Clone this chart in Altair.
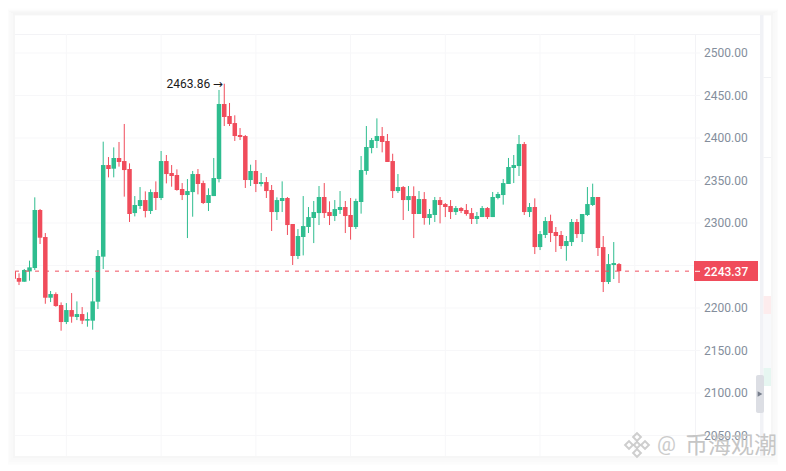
import altair as alt
import pandas as pd

open_ = [2243.1,2235.3,2230.9,2243.1,2247.0,2315.3,2283.5,2212.1,2216.4,2203.5,
         2183.5,2197.6,2189.4,2192.9,2185.1,2185.1,2207.4,2260.4,2368.2,2363.9,
         2376.5,2372.9,2363.5,2311.7,2320.0,2327.0,2314.1,2336.4,2329.4,2372.9,
         2358.8,2356.5,2340.0,2332.9,2336.4,2357.6,2347.0,2323.5,2331.7,2351.7,
         2440.0,2425.9,2417.6,2403.5,2402.3,2350.6,2361.2,2345.9,2348.2,2338.8,
         2312.9,2325.9,2329.4,2298.8,2261.2,2283.5,2295.3,2305.9,2311.7,2330.6,
         2312.9,2308.2,2315.3,2318.8,2309.4,2295.3,2324.7,2361.2,2388.2,2396.5,
         2402.3,2396.5,2372.9,2337.6,2342.3,2327.0,2331.7,2310.6,2328.2,2305.9,
         2309.4,2327.0,2322.3,2320.0,2312.9,2317.6,2315.3,2311.7,2304.7,2307.0,
         2317.6,2307.0,2329.4,2332.9,2345.9,2364.7,2367.0,2392.9,2312.9,2318.8,
         2271.7,2285.9,2302.3,2289.4,2285.9,2272.9,2277.6,2301.2,2287.0,2309.4,
         2321.2,2330.6,2271.7,2230.6,2250.6,2251.7]
close = [2234.5,2230.9,2244.7,2247.8,2315.3,2282.7,2212.1,2216.4,2202.3,2183.5,
         2197.6,2189.8,2192.9,2185.1,2187.0,2207.8,2261.2,2368.2,2363.5,2376.5,
         2371.8,2362.3,2310.6,2321.2,2327.0,2314.1,2336.4,2329.4,2372.9,2357.6,
         2355.3,2338.8,2332.9,2337.6,2357.6,2345.9,2323.5,2332.9,2352.9,2440.0,
         2424.7,2416.5,2402.3,2401.2,2350.6,2361.2,2345.9,2348.2,2337.6,2312.9,
         2327.0,2329.4,2297.6,2261.2,2284.7,2296.4,2307.0,2312.9,2330.6,2311.7,
         2308.2,2316.4,2318.8,2308.2,2295.3,2325.9,2362.3,2389.4,2397.6,2402.3,
         2395.3,2371.8,2337.6,2342.3,2327.0,2331.7,2310.6,2328.2,2305.9,2310.6,
         2327.0,2321.2,2318.8,2312.9,2317.6,2314.1,2310.6,2304.7,2308.2,2317.6,
         2307.0,2330.6,2334.1,2347.0,2365.9,2368.2,2392.9,2312.9,2318.8,2271.7,
         2287.0,2302.3,2288.2,2284.7,2272.9,2278.8,2301.2,2287.0,2310.6,2322.3,
         2330.6,2270.6,2230.6,2251.7,2252.9,2243.37]
high = [2243.1,2240.8,2245.9,2255.7,2330.2,2316.5,2288.2,2220.0,2218.4,2206.6,
        2205.8,2217.6,2207.8,2201.1,2194.9,2235.3,2268.2,2395.7,2377.6,2389.0,
        2395.3,2416.5,2370.2,2331.7,2342.3,2337.2,2339.6,2349.0,2384.7,2380.0,
        2368.2,2363.1,2347.0,2351.7,2361.2,2363.5,2349.8,2340.8,2376.5,2456.5,
        2463.86,2441.2,2426.7,2411.7,2403.5,2368.6,2374.1,2358.8,2354.1,2344.7,
        2330.2,2349.0,2330.6,2298.8,2292.9,2331.7,2318.8,2325.9,2343.5,2347.0,
        2325.5,2327.0,2337.6,2325.9,2329.4,2328.6,2378.8,2414.1,2400.0,2423.1,
        2412.9,2404.7,2381.5,2357.6,2343.5,2343.5,2343.1,2337.6,2336.4,2316.5,
        2330.6,2330.6,2323.5,2327.0,2320.0,2318.8,2322.3,2317.6,2312.9,2320.0,
        2318.8,2336.5,2336.5,2351.8,2376.5,2380.0,2403.5,2395.3,2323.5,2329.0,
        2290.6,2307.0,2309.8,2295.3,2290.6,2284.7,2304.7,2304.7,2310.6,2342.3,
        2346.3,2330.6,2284.7,2263.5,2277.6,2252.9]
low = [2234.5,2227.0,2230.9,2232.1,2244.7,2275.3,2205.0,2207.0,2201.5,2173.3,
       2181.1,2182.7,2185.8,2181.1,2178.0,2174.5,2198.8,2245.9,2353.7,2353.7,
       2366.3,2331.0,2301.2,2307.8,2316.5,2306.6,2310.6,2315.3,2327.0,2346.6,
       2342.7,2338.0,2327.0,2282.3,2307.4,2333.7,2322.3,2314.1,2331.7,2347.8,
       2414.1,2414.1,2396.5,2397.6,2341.2,2343.5,2336.4,2343.1,2329.4,2290.6,
       2303.5,2312.9,2285.9,2250.6,2257.6,2261.9,2288.2,2276.4,2297.6,2305.9,
       2297.6,2302.3,2310.6,2288.2,2280.4,2292.9,2311.0,2356.8,2382.0,2388.2,
       2383.1,2371.8,2329.4,2335.3,2303.5,2314.1,2282.3,2310.6,2298.0,2298.0,
       2301.2,2299.6,2307.0,2304.7,2309.4,2311.7,2308.6,2298.8,2298.8,2307.0,
       2304.7,2307.0,2327.8,2321.6,2345.9,2347.0,2355.3,2309.4,2307.0,2263.5,
       2268.2,2282.3,2277.6,2265.9,2269.4,2255.6,2272.9,2282.3,2277.6,2308.2,
       2320.0,2261.2,2218.8,2228.2,2234.1,2229.4]
price_ticks = [2050, 2100, 2150, 2200, 2250, 2300, 2350, 2400, 2450, 2500]
price_labels = [2050, 2100, 2150, 2200, 2300, 2350, 2400, 2450, 2500]
time_ticks = [10, 28, 46, 64, 82, 100, 118]
last_price = 2243.37
peak_price = 2463.86
peak_index = 40
watermark = "币海观潮"

GREEN, RED = "#2ebd8f", "#f04c5b"
GRID = "#f7f7f9"

df = pd.DataFrame({"i": list(range(len(open_))), "open": open_, "close": close,
                   "high": high, "low": low})
df["dir"] = ["up" if c >= o else "down" for o, c in zip(open_, close)]
ticks_df = pd.DataFrame({"v": price_ticks})
labels_df = pd.DataFrame({"v": price_labels, "t": [f"{v:.2f}" for v in price_labels]})
time_df = pd.DataFrame({"i": time_ticks})

xs = alt.Scale(domain=[0.2394, 129.44], nice=False, zero=False, padding=0)
ys = alt.Scale(domain=[2025.9, 2522.35], nice=False, zero=False, padding=0)
col = alt.Color("dir:N", scale=alt.Scale(domain=["up", "down"], range=[GREEN, RED]), legend=None)
one = pd.DataFrame({"a": [0]})
X = lambda f: alt.X(f, scale=xs, axis=None)
Y = lambda f: alt.Y(f, scale=ys, axis=None)


def box(x0, x1, y0, y1, color, **kw):
    # decoration in plot-relative pixels
    return alt.Chart(one).mark_rect(color=color, **kw).encode(
        x=alt.value(x0), x2=alt.value(x1), y=alt.value(y0), y2=alt.value(y1))


layers = []

# card shadow, as outlines round the card
for g, op in ((1, 0.035), (3, 0.025), (5, 0.018), (7, 0.012), (9, 0.007)):
    layers.append(box(0 - g, 756 + g, -19 - 0.6 * g, 422 + g, "#000000", fillOpacity=0, stroke="#000000",
                      strokeOpacity=op, strokeWidth=2))
# right hand strip
layers.append(box(745, 748.5, -19, 422, "#f1f2f6"))
layers.append(box(748.5, 756, 43, 44, "#f1f2f5"))
layers.append(box(748.5, 756, 123, 124, "#f1f2f5"))
layers.append(box(748.5, 756, 262, 280, "#fdeced"))
layers.append(box(748.5, 756, 280, 334, "#f8f9fb"))
layers.append(box(748.5, 756, 334, 352, "#e6f6f1"))
# top rule, axis line
layers.append(box(0, 745, 0, 1, "#f3f3f6"))
layers.append(box(680, 681, 0, 422, "#f3f3f6"))

# grid lines and price labels
layers.append(alt.Chart(ticks_df).mark_rule(color=GRID, strokeWidth=1).encode(
    y=Y("v:Q"), x=alt.value(0), x2=alt.value(685)))
layers.append(alt.Chart(time_df).mark_rule(color=GRID, strokeWidth=1).encode(
    x=X("i:Q"), y=alt.value(0), y2=alt.value(422)))
layers.append(alt.Chart(labels_df).mark_text(
    font="Roboto", fontSize=12, color="#848e9c", align="left", baseline="middle").encode(
    y=Y("v:Q"), x=alt.value(689), text="t:N"))

wicks = alt.Chart(df).mark_rule(strokeWidth=1, clip=True).encode(
    x=X("i:Q"), y=Y("high:Q"), y2="low:Q", color=col)
bodies = alt.Chart(df).mark_bar(size=4.5, clip=True).encode(
    x=X("i:Q"), y=Y("open:Q"), y2="close:Q", color=col)
layers += [wicks, bodies]

layers.append(alt.Chart(pd.DataFrame({"v": [last_price]})).mark_rule(
    color="#f0505f", strokeWidth=1, strokeDash=[4, 6]).encode(
    y=Y("v:Q"), x=alt.value(0), x2=alt.value(685)))

layers.append(box(679, 743, 227, 247, "#f04c5b"))
layers.append(box(680, 685, 236.8, 237.8, "#ffffff"))
layers.append(alt.Chart(pd.DataFrame({"t": [f"{last_price:.2f}"]})).mark_text(
    font="Roboto", fontSize=12, fontWeight=500, color="#ffffff", align="left", baseline="middle"
).encode(x=alt.value(689), y=alt.value(237.5), text="t:N"))

peak = pd.DataFrame({"i": [peak_index], "v": [peak_price], "t": [f"{peak_price:.2f}"], "a": ["→"]})
layers.append(alt.Chart(peak).mark_text(font="Roboto", fontSize=12, color="#1a1a1a", align="right",
                                        baseline="middle", dx=-14).encode(
    x=X("i:Q"), y=Y("v:Q"), text="t:N"))
layers.append(alt.Chart(peak).mark_text(font="DejaVu Sans", fontSize=12, color="#1a1a1a", align="right",
                                        baseline="middle", dx=-1.5).encode(
    x=X("i:Q"), y=Y("v:Q"), text="a:N"))

# slider handle
layers.append(box(741, 749, 341, 379, "#dcdee4", cornerRadius=2))
layers.append(alt.Chart(one).mark_point(
    shape="triangle-right", filled=True, size=30, color="#777e8c", opacity=1).encode(
    x=alt.value(745), y=alt.value(360)))

# watermark
for dx, dy, s in [(0, -8, 60), (-8, 0, 60), (8, 0, 60), (0, 8, 60), (0, 0, 40)]:
    layers.append(alt.Chart(one).mark_point(
        shape="diamond", filled=False, size=s, color="#c9c9c9", strokeWidth=2, opacity=0.9).encode(
        x=alt.value(622 + dx), y=alt.value(411 + dy)))
layers.append(alt.Chart(pd.DataFrame({"t": ["@"]})).mark_text(
    font="Roboto", fontSize=21, color="#cccccc", align="left", baseline="middle").encode(
    x=alt.value(642), y=alt.value(411), text="t:N"))
layers.append(alt.Chart(pd.DataFrame({"t": [watermark]})).mark_text(
    font="Noto Sans CJK SC", fontSize=23, color="#c6c6c6", align="left", baseline="middle").encode(
    x=alt.value(670), y=alt.value(412), text="t:N"))

chart = alt.layer(*layers).properties(
    width=680, height=422,
    background="#ffffff",
    autosize=alt.AutoSizeParams(type="none"),
    padding={"left": 7, "top": 26, "right": 83, "bottom": 9},
).configure_view(stroke=None)

chart.save("out.html", embed_options={"renderer": "svg", "actions": False})
